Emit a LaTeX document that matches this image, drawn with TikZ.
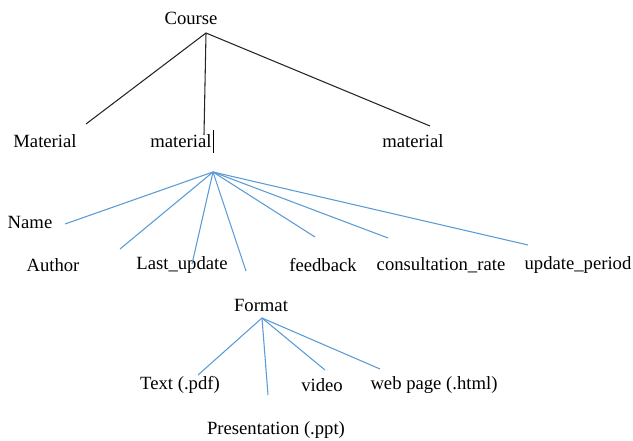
\documentclass[tikz,border=0pt]{standalone}
\usepackage{fontspec}
\setmainfont{Liberation Serif}
\definecolor{lineblue}{RGB}{91,155,213}

\begin{document}
\begin{tikzpicture}[x=0.75pt, y=-0.75pt, font=\fontsize{14}{16}\selectfont,
    lbl/.style={inner sep=0pt},
    blackline/.style={draw=black!85, line width=0.8pt},
    blueline/.style={draw=lineblue, line width=0.8pt}]
    \useasboundingbox (0,0) rectangle (633,441);
    % labels, top level
    \node[lbl] (course) at (191,18) {Course};
    \node[lbl] (matA) at (45,141) {Material};
    \node[lbl] (matB) at (181,141) {material};
    \node[lbl] (matC) at (413,141) {material};
    % labels, material
    \node[lbl] (name) at (30,222) {Name};
    \node[lbl] (author) at (53,265) {Author};
    \node[lbl] (lastupd) at (182,265) {Last\_update};
    \node[lbl] (feedback) at (323,265) {feedback};
    \node[lbl] (consult) at (441,265) {consultation\_rate};
    \node[lbl] (updper) at (578,265) {update\_period};
    % labels, format
    \node[lbl] (format) at (261,305) {Format};
    \node[lbl] (text) at (180,385) {Text (.pdf)};
    \node[lbl] (video) at (322,385) {video};
    \node[lbl] (web) at (434,385) {web page (.html)};
    \node[lbl] (pres) at (276,430) {Presentation (.ppt)};
    % line ends
    \coordinate (c0) at (206,33);
    \coordinate (cA) at (86,124);
    \coordinate (cB) at (204,135);
    \coordinate (cC) at (430,126);
    \coordinate (m0) at (213,172);
    \coordinate (mName) at (65,224);
    \coordinate (mAuthor) at (120,249);
    \coordinate (mLast) at (192,264);
    \coordinate (mFormat) at (246,271);
    \coordinate (mFeed) at (315,237);
    \coordinate (mCons) at (388,238);
    \coordinate (mUpd) at (528,245);
    \coordinate (f0) at (262,318);
    \coordinate (fText) at (198,375);
    \coordinate (fPres) at (268,395);
    \coordinate (fVideo) at (325,370);
    \coordinate (fWeb) at (380,369);
    % tree lines
    \foreach \e in {cA, cB, cC}
        \draw[blackline] (c0) -- (\e);
    \foreach \e in {mName, mAuthor, mLast, mFormat, mFeed, mCons, mUpd}
        \draw[blueline] (m0) -- (\e);
    \foreach \e in {fText, fPres, fVideo, fWeb}
        \draw[blueline] (f0) -- (\e);
    % cursor after material
    \draw[black, line width=0.6pt] ([xshift=1.5pt, yshift=3pt]matB.north east) -- ([xshift=1.5pt, yshift=-4pt]matB.south east);
\end{tikzpicture}
\end{document}
